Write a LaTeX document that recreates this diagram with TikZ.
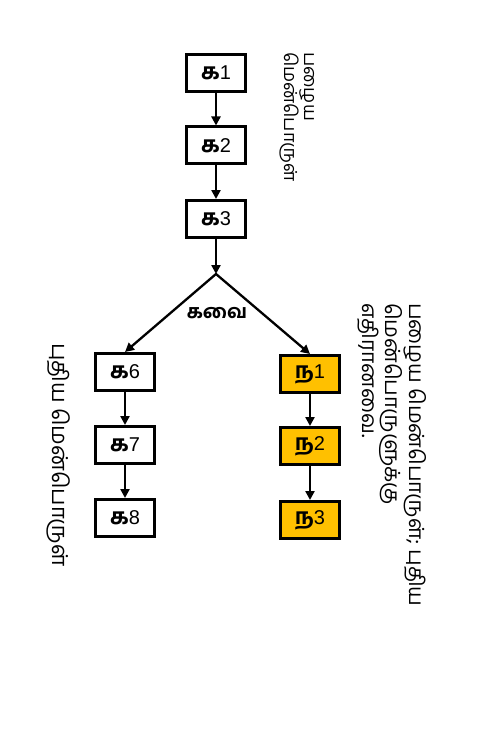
\documentclass[tikz,border=0pt]{standalone}
\usepackage{fontspec}
\newfontfamily\ta[Script=Tamil]{Hind Madurai}
\newfontfamily\tab[Script=Tamil]{Hind Madurai Bold}
\newfontfamily\arial{Liberation Sans}
\usetikzlibrary{arrows.meta}
\definecolor{gold}{HTML}{FFC000}
\tikzset{
  commit/.style={draw=black, line width=3pt, minimum width=59pt, minimum height=37pt, inner sep=0pt},
  oldc/.style={commit, fill=gold},
  link/.style={line width=2.3pt, -{Triangle[length=9pt,width=9pt]}},
  note/.style={rotate=-90, inner sep=0pt, align=left},
}
\newcommand{\lbl}[2]{{\tab\fontsize{22}{24}\selectfont #1}{\arial\fontsize{20}{22}\selectfont #2}}
\begin{document}
\begin{tikzpicture}[x=1pt,y=1pt]
\useasboundingbox (0,0) rectangle (476,-730);
\node[commit] (k1) at (216,-73) {\lbl{க}{1}};
\node[commit] (k2) at (216,-145.5) {\lbl{க}{2}};
\node[commit] (k3) at (216,-219) {\lbl{க}{3}};
\coordinate (fork) at (216,-274);
\node[commit] (k6) at (125,-372) {\lbl{க}{6}};
\node[commit] (k7) at (125,-445) {\lbl{க}{7}};
\node[commit] (k8) at (125,-518) {\lbl{க}{8}};
\node[oldc] (n1) at (310,-374) {\lbl{ந}{1}};
\node[oldc] (n2) at (310,-446) {\lbl{ந}{2}};
\node[oldc] (n3) at (310,-520) {\lbl{ந}{3}};
\node[font=\tab\fontsize{19}{21}\selectfont] (fl) at (217,-313) {கவை};
\draw[link] (k1) -- (k2);
\draw[link] (k2) -- (k3);
\draw[link] (k3) -- (fork);
\draw[link, line cap=round] (fork) -- (k6.north);
\draw[link, line cap=round] (fork) -- (n1.north);
\draw[link] (k6) -- (k7);
\draw[link] (k7) -- (k8);
\draw[link] (n1) -- (n2);
\draw[link] (n2) -- (n3);
\node[note, anchor=west, font=\ta\fontsize{18}{18}\selectfont] (t1) at (297,-52) {பழைய\\மென்பொருள்};
\node[note, anchor=west, font=\ta\fontsize{21}{22}\selectfont] (t2) at (392,-303) {பழைய மென்பொருள்; புதிய\\மென்பொருளுக்கு\\எதிரானவை.};
\node[note, font=\ta\fontsize{22}{24}\selectfont] (t3) at (59,-455) {புதிய மென்பொருள்};
\end{tikzpicture}
\end{document}
